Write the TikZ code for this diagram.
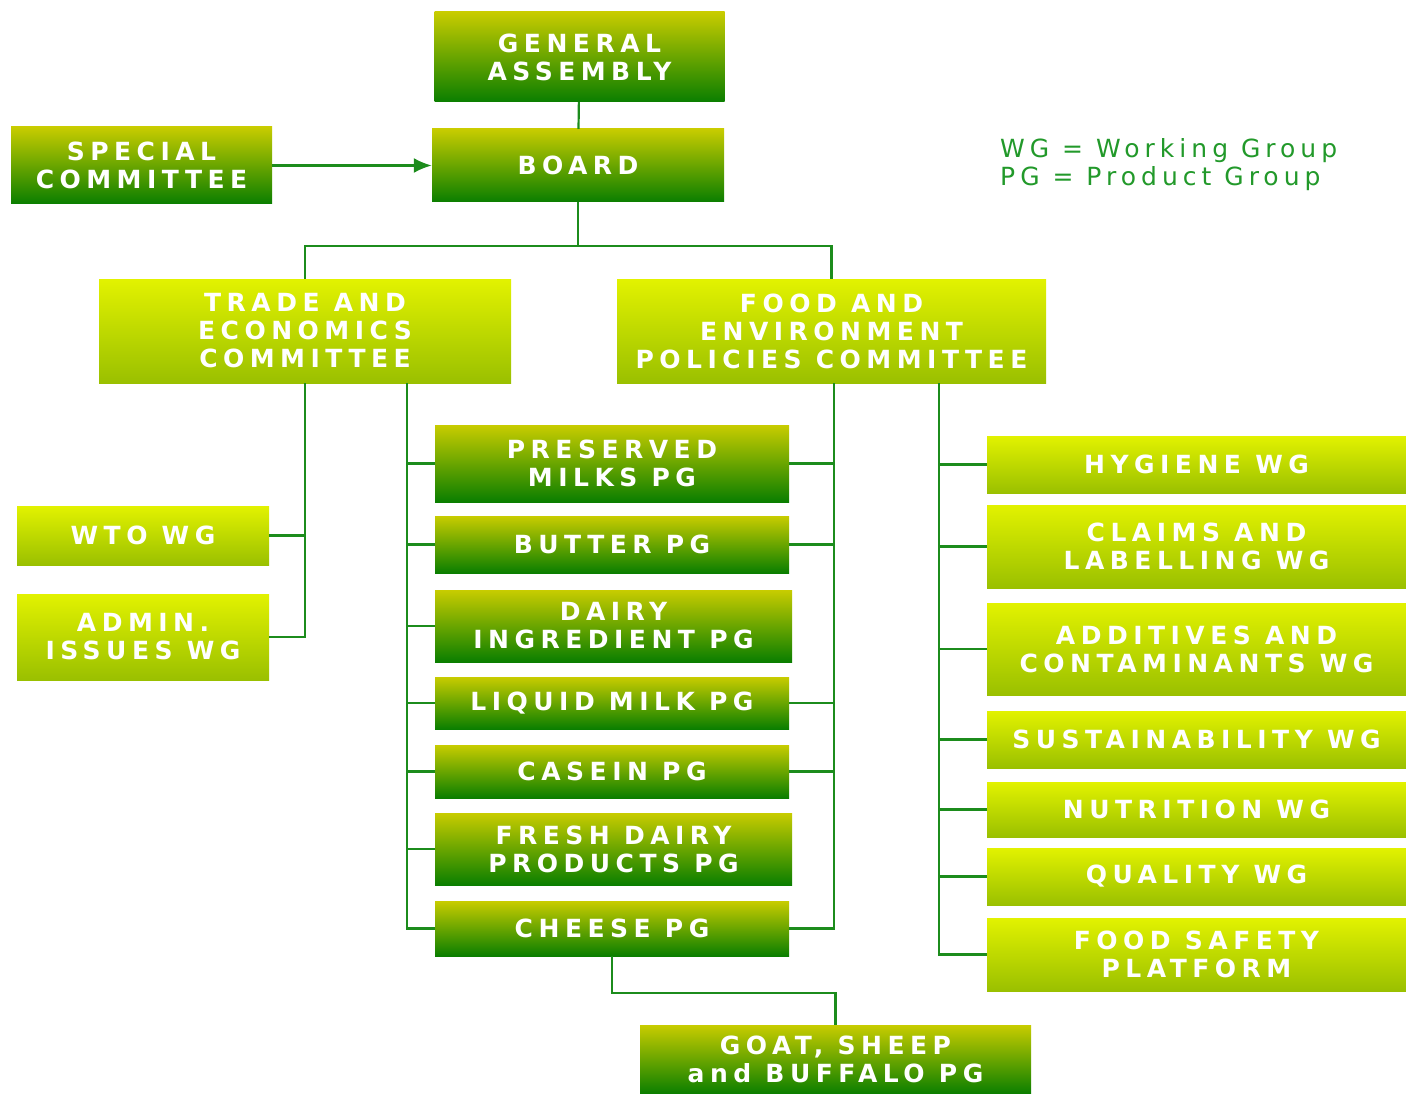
\documentclass[tikz,border=0pt]{standalone}
\usepackage{fontspec}
\newfontfamily\boxfont[LetterSpace=22]{DejaVu Sans}
\newfontfamily\keyfont[LetterSpace=20]{DejaVu Sans}
\usetikzlibrary{calc}
\usetikzlibrary{arrows.meta}

\definecolor{linegreen}{HTML}{1C8C1C}
\definecolor{darktop}{HTML}{C8CC00}
\definecolor{darkbot}{HTML}{0A7E00}
\definecolor{lighttop}{HTML}{E2F200}
\definecolor{lightbot}{HTML}{9AC000}
\definecolor{keygreen}{HTML}{22992A}

\begin{document}
\begin{tikzpicture}[
        x=1pt, y=-1pt,
        every node/.style={inner sep=0pt, align=center, text=white,
            font=\boxfont\bfseries\fontsize{25}{28}\selectfont},
        darkbox/.style={top color=darktop, bottom color=darkbot},
        lightbox/.style={top color=lighttop, bottom color=lightbot},
        link/.style={draw=linegreen, line width=2.2pt},
        >={Latex[length=18pt,width=15pt]}
    ]
        \useasboundingbox (0,0) rectangle (1406,1094);

        % top of the chart
        \node[darkbox, minimum width=290, minimum height=90] (ga) at (579.5,57) {GENERAL\\ASSEMBLY};
        \node[darkbox, minimum width=292, minimum height=73] (board) at (578,165.5) {BOARD};
        \node[darkbox, minimum width=261, minimum height=77] (special) at (141.5,165.5) {SPECIAL\\COMMITTEE};
        \node[anchor=west, align=left, text=keygreen,
            font=\keyfont\fontsize{25}{28}\selectfont] (key) at (1000,165) {WG = Working Group\\PG = Product Group};

        % committees
        \node[lightbox, minimum width=412, minimum height=104] (tec) at (305,331) {TRADE AND\\ECONOMICS\\COMMITTEE};
        \node[lightbox, minimum width=429, minimum height=104] (fepc) at (831.5,331) {FOOD AND\\ENVIRONMENT\\POLICIES COMMITTEE};

        \node[lightbox, minimum width=252, minimum height=59] (wto) at (143,535.5) {WTO WG};
        \node[lightbox, minimum width=252, minimum height=86] (admin) at (143,637) {ADMIN.\\ISSUES WG};

        % product groups
        \node[darkbox, minimum width=354, minimum height=77] (pres) at (612,463.5) {PRESERVED\\MILKS PG};
        \node[darkbox, minimum width=354, minimum height=57] (butter) at (612,544.5) {BUTTER PG};
        \node[darkbox, minimum width=357, minimum height=72] (dairy) at (613.5,626) {DAIRY\\INGREDIENT PG};
        \node[darkbox, minimum width=354, minimum height=52] (liquid) at (612,703) {LIQUID MILK PG};
        \node[darkbox, minimum width=354, minimum height=53] (casein) at (612,771.5) {CASEIN PG};
        \node[darkbox, minimum width=357, minimum height=72] (fresh) at (613.5,849) {FRESH DAIRY\\PRODUCTS PG};
        \node[darkbox, minimum width=354, minimum height=55] (cheese) at (612,928.5) {CHEESE PG};
        \node[darkbox, minimum width=391, minimum height=69] (goat) at (835.5,1059.5) {GOAT, SHEEP\\and BUFFALO PG};

        % working groups
        \node[lightbox, minimum width=419, minimum height=57] (hyg) at (1196.5,464.5) {HYGIENE WG};
        \node[lightbox, minimum width=419, minimum height=83] (claims) at (1196.5,546.5) {CLAIMS AND\\LABELLING WG};
        \node[lightbox, minimum width=419, minimum height=92] (addit) at (1196.5,649) {ADDITIVES AND\\CONTAMINANTS WG};
        \node[lightbox, minimum width=419, minimum height=57] (sustain) at (1196.5,739.5) {SUSTAINABILITY WG};
        \node[lightbox, minimum width=419, minimum height=55] (nutri) at (1196.5,809.5) {NUTRITION WG};
        \node[lightbox, minimum width=419, minimum height=57] (quality) at (1196.5,876.5) {QUALITY WG};
        \node[lightbox, minimum width=419, minimum height=73] (safety) at (1196.5,954.5) {FOOD SAFETY\\PLATFORM};

        \coordinate (split) at (581,246);
        \coordinate (tecr) at (407,383);
        \coordinate (fepcl) at (834,383);
        \coordinate (fepcr) at (939,383);

        \draw[link] (ga) -- (board);
        \draw[link,->,fill=linegreen] (special) -- (board);
        \draw[link] (board.south) -- (board.south |- split);
        \draw[link] (tec.north) -- (tec.north |- split) -- (fepc.north |- split) -- (fepc.north);

        \draw[link] (tec.south) |- (wto.east);
        \draw[link] (tec.south) |- (admin.east);

        \draw[link] (tecr) |- (pres.west);
        \draw[link] (tecr) |- (butter.west);
        \draw[link] (tecr) |- (dairy.west);
        \draw[link] (tecr) |- (liquid.west);
        \draw[link] (tecr) |- (casein.west);
        \draw[link] (tecr) |- (fresh.west);
        \draw[link] (tecr) |- (cheese.west);

        \draw[link] (fepcl) |- (pres.east);
        \draw[link] (fepcl) |- (butter.east);
        \draw[link] (fepcl) |- (liquid.east);
        \draw[link] (fepcl) |- (casein.east);
        \draw[link] (fepcl) |- (cheese.east);

        \draw[link] (fepcr) |- (hyg.west);
        \draw[link] (fepcr) |- (claims.west);
        \draw[link] (fepcr) |- (addit.west);
        \draw[link] (fepcr) |- (sustain.west);
        \draw[link] (fepcr) |- (nutri.west);
        \draw[link] (fepcr) |- (quality.west);
        \draw[link] (fepcr) |- (safety.west);

        \draw[link] (cheese.south) -- ++(0,37) -| (goat.north);
    \end{tikzpicture}
\end{document}
